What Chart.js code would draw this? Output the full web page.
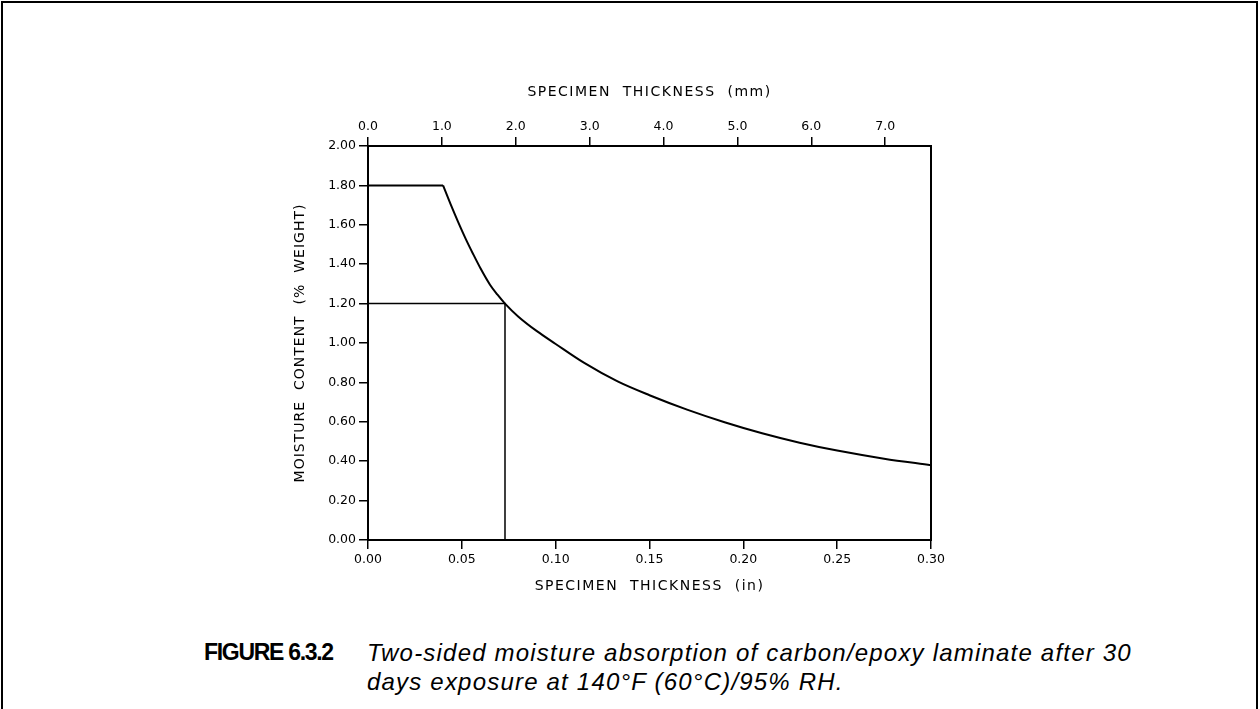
<!DOCTYPE html>
<html>
<head>
<meta charset="utf-8">
<script src="https://cdn.jsdelivr.net/npm/chart.js@4"></script>
<style>
    body { margin: 0; background: #fff; }
    #frame { position: absolute; left: 1px; top: 1px; width: 1257px; height: 760px; border: 2px solid #000; box-sizing: border-box; }
    #wrap { position: absolute; left: 0; top: 0; width: 1260px; height: 600px; }
    .cap { position: absolute; font-family: "Liberation Sans", Arial, sans-serif; color: #000; line-height: 29px; white-space: nowrap; }
</style>
</head>
<body>
<div id="frame"></div>
<div id="wrap"><canvas id="chart"></canvas></div>
<div class="cap" style="left:204px; top:638px; font-size:23px; font-weight:bold; letter-spacing:-1.3px;">FIGURE 6.3.2</div>
<div class="cap" style="left:367px; top:638px; font-size:24px; font-style:italic; letter-spacing:1.2px;">Two-sided moisture absorption of carbon/epoxy laminate after 30<br>days exposure at 140°F (60°C)/95% RH.</div>
<script>
// curve (thickness in inches, moisture % weight)
const thicknessIn = [0.040, 0.044, 0.048, 0.052, 0.056, 0.060, 0.065, 0.069, 0.073, 0.080, 0.090, 0.100, 0.115, 0.133, 0.150, 0.170, 0.190, 0.210, 0.230, 0.250, 0.275, 0.300];
const moisture    = [1.800, 1.705, 1.615, 1.530, 1.452, 1.378, 1.296, 1.245, 1.200, 1.135, 1.060, 0.995, 0.900, 0.805, 0.735, 0.662, 0.598, 0.542, 0.494, 0.454, 0.413, 0.380];

// flat part at the start
const plateauIn = [0, 0.040];
const plateauMoisture = [1.80, 1.80];

// 1.20 % read-off lines
const guideIn = [0, 0.073, 0.073];
const guideMoisture = [1.20, 1.20, 0];

const inMax = 0.30;
const mmMax = 7.62;   // 0.30 in
const moistureMax = 2.0;

const pts = (xs, ys) => xs.map((x, i) => ({ x: x, y: ys[i] }));

const axisFont = { family: '"DejaVu Sans", sans-serif', size: 12.5 };

const axisTitles = {
    id: 'axisTitles',
    afterDraw(chart) {
        const { ctx, chartArea: a } = chart;
        const cx = (a.left + a.right) / 2;
        ctx.save();
        ctx.fillStyle = '#000';
        ctx.font = '14px "DejaVu Sans", sans-serif';
        ctx.letterSpacing = '1.5px';
        ctx.textAlign = 'center';
        ctx.textBaseline = 'middle';
        ctx.fillText('SPECIMEN  THICKNESS  (mm)', cx, 92);
        ctx.fillText('SPECIMEN  THICKNESS  (in)', cx, 586);
        ctx.translate(300, (a.top + a.bottom) / 2);
        ctx.rotate(-Math.PI / 2);
        ctx.letterSpacing = '1px';
        ctx.fillText('MOISTURE  CONTENT  (%  WEIGHT)', 0, 0);
        ctx.restore();
    }
};

const tickGrid = { drawOnChartArea: false, drawTicks: true, tickLength: 9, color: '#000', lineWidth: 1.5 };
const border = { color: '#000', width: 2 };

new Chart(document.getElementById('chart'), {
    type: 'scatter',
    data: {
        datasets: [
            { data: pts(plateauIn, plateauMoisture), showLine: true, borderColor: '#000', borderWidth: 2, pointRadius: 0 },
            { data: pts(thicknessIn, moisture), showLine: true, borderColor: '#000', borderWidth: 2, pointRadius: 0, cubicInterpolationMode: 'monotone' },
            { data: pts(guideIn, guideMoisture), showLine: true, borderColor: '#000', borderWidth: 1.5, pointRadius: 0 }
        ]
    },
    options: {
        responsive: true,
        maintainAspectRatio: false,
        animation: false,
        layout: { padding: 0 },
        plugins: { legend: { display: false }, tooltip: { enabled: false } },
        scales: {
            x: {
                type: 'linear', position: 'bottom', min: 0, max: inMax,
                ticks: { stepSize: 0.05, color: '#000', font: axisFont, padding: 3, maxRotation: 0, callback: v => v.toFixed(2) },
                grid: tickGrid, border: border,
                afterFit: s => { s.height = 60; }
            },
            x2: {
                type: 'linear', position: 'top', min: 0, max: mmMax,
                ticks: { stepSize: 1, color: '#000', font: axisFont, padding: 3, maxRotation: 0, callback: v => v.toFixed(1) },
                afterBuildTicks: s => { s.ticks = s.ticks.filter(t => Number.isInteger(t.value)); },
                grid: tickGrid, border: border,
                afterFit: s => { s.height = 146; }
            },
            y: {
                type: 'linear', position: 'left', min: 0, max: moistureMax,
                ticks: { stepSize: 0.2, color: '#000', font: axisFont, padding: 3, callback: v => v.toFixed(2) },
                grid: tickGrid, border: border,
                afterFit: s => { s.width = 368; }
            },
            y2: {
                type: 'linear', position: 'right', min: 0, max: moistureMax,
                ticks: { display: false },
                grid: { drawOnChartArea: false, drawTicks: false },
                border: border,
                afterFit: s => { s.width = 329; }
            }
        }
    },
    plugins: [axisTitles]
});
</script>
</body>
</html>
